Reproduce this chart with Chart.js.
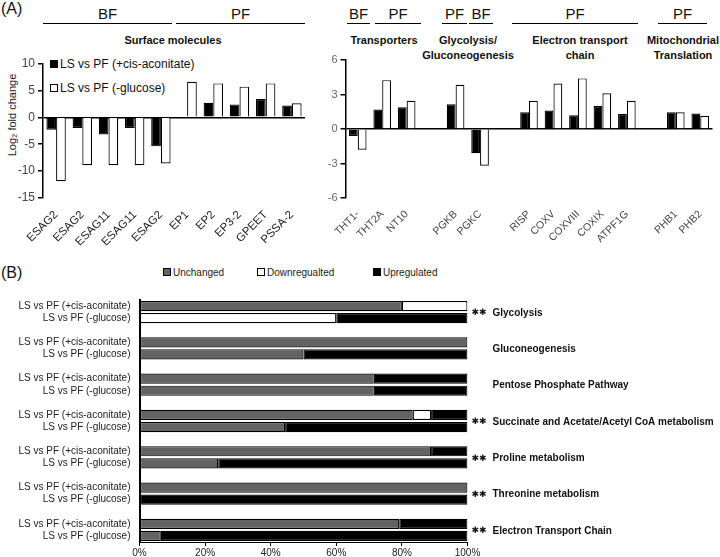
<!DOCTYPE html>
<html>
<head>
<meta charset="utf-8">
<script src="https://cdn.jsdelivr.net/npm/chart.js@4.4.1/dist/chart.umd.min.js"></script>
<style>
  body { margin:0; width:720px; height:557px; position:relative; background:#fff; overflow:hidden;
         font-family:'Liberation Sans', Arial, sans-serif; color:#111; }
  canvas { position:absolute; }
  .hdr { position:absolute; top:5px; height:18px; line-height:18px; font-size:15px; text-align:center; border-bottom:1.5px solid #000; }
  .sub { position:absolute; top:33px; font-size:11px; font-weight:bold; text-align:center; line-height:15px; }
  .panel { position:absolute; font-size:16px; }
  .leg { position:absolute; font-size:12px; color:#111; white-space:nowrap; line-height:14px; }
  .leg i, .legb i { display:inline-block; box-sizing:border-box; width:8px; height:8px; border:1px solid #000; margin-right:2px; vertical-align:0px; }
  .legb { position:absolute; font-size:10px; color:#222; white-space:nowrap; line-height:12px; top:267px; }
  .ytitle { position:absolute; left:12px; top:115px; transform:translate(-50%,-50%) rotate(-90deg); font-size:11px; color:#222; white-space:nowrap; }
</style>
</head>
<body>
<div class="panel" style="left:1px;top:0px">(A)</div>
<div class="panel" style="left:1px;top:264px">(B)</div>

<div class="hdr" style="left:43px;width:129px">BF</div>
<div class="hdr" style="left:176px;width:129px">PF</div>
<div class="hdr" style="left:347px;width:23px">BF</div>
<div class="hdr" style="left:375px;width:46px">PF</div>
<div class="hdr" style="left:442px;width:25px">PF</div>
<div class="hdr" style="left:469px;width:24px">BF</div>
<div class="hdr" style="left:512px;width:126px">PF</div>
<div class="hdr" style="left:658px;width:49px">PF</div>

<div class="sub" style="left:93px;width:160px">Surface molecules</div>
<div class="sub" style="left:334px;width:100px">Transporters</div>
<div class="sub" style="left:408px;width:120px">Glycolysis/<br>Gluconeogenesis</div>
<div class="sub" style="left:520px;width:120px">Electron transport<br>chain</div>
<div class="sub" style="left:633px;width:100px">Mitochondrial<br>Translation</div>

<div class="ytitle">Log₂ fold change</div>

<div class="leg" style="left:50px;top:57px"><i style="background:#000"></i>LS vs PF (+cis-aconitate)</div>
<div class="leg" style="left:50px;top:81px"><i style="background:#fff"></i>LS vs PF (-glucose)</div>

<div class="legb" style="left:163px"><i style="background:#636363"></i>Unchanged</div>
<div class="legb" style="left:257px"><i style="background:#fff"></i>Downregualted</div>
<div class="legb" style="left:373px"><i style="background:#000"></i>Upregulated</div>

<canvas id="surface" width="308" height="200" style="left:0;top:50px;width:308px;height:200px"></canvas>
<canvas id="metab" width="415" height="200" style="left:305px;top:50px;width:415px;height:200px"></canvas>
<canvas id="pathway" width="720" height="272" style="left:0;top:285px;width:720px;height:272px"></canvas>

<script>
const FONT = "'Liberation Sans', Arial, sans-serif";

// (A) surface molecules, log2 fold change
const surfaceGenes = ['ESAG2', 'ESAG2', 'ESAG11', 'ESAG11', 'ESAG2', 'EP1', 'EP2', 'EP3-2', 'GPEET', 'PSSA-2'];
const surfaceCis = [-2.3, -2.0, -3.2, -2.0, -5.4, 0, 2.7, 2.4, 3.4, 2.2];
const surfaceGlu = [-11.9, -8.9, -8.9, -8.9, -8.6, 6.6, 6.3, 5.7, 6.3, 2.6];
const surfaceTicks = [-15, 10, 5];

// (A) metabolic genes ('' = spacer between groups)
const metabGenes = ['THT1-', 'THT2A', 'NT10', '', 'PGKB', 'PGKC', '', 'RISP', 'COXV', 'COXVIII', 'COXIX', 'ATPF1G', '', 'PHB1', 'PHB2'];
const metabCis = [-0.6, 1.7, 1.9, null, 2.15, -2.1, null, 1.45, 1.6, 1.2, 2.0, 1.3, null, 1.45, 1.35];
const metabGlu = [-1.8, 4.25, 2.45, null, 3.85, -3.2, null, 2.45, 3.95, 4.4, 3.1, 2.45, null, 1.45, 1.15];
const metabTicks = [-6, 6, 3];

// (B) % of genes per pathway
const pathways = ['Glycolysis', 'Gluconeogenesis', 'Pentose Phosphate Pathway',
  'Succinate and Acetate/Acetyl CoA metabolism', 'Proline metabolism', 'Threonine metabolism', 'Electron Transport Chain'];
const significance = ['✱✱', '', '', '✱✱', '✱✱', '✱✱', '✱✱'];
const conditions = ['LS vs PF (+cis-aconitate)', 'LS vs PF (-glucose)'];
const unchangedCis = [80, 100, 71.4, 83.3, 88.9, 100, 79.2];
const downCis = [20, 0, 0, 5.6, 0, 0, 0];
const upCis = [0, 0, 28.6, 11.1, 11.1, 0, 20.8];
const unchangedGlu = [0, 50, 71.4, 44.4, 24, 0, 6.5];
const downGlu = [60, 0, 0, 0, 0, 0, 0];
const upGlu = [40, 50, 28.6, 55.6, 76, 100, 93.5];

function foldChart(id, labels, cis, glu, ticks, opts) {
    const [min, max, step] = ticks;
    return new Chart(document.getElementById(id), {
        type: 'bar',
        data: {
            labels: labels,
            datasets: [
                { label: conditions[0], data: cis, backgroundColor: '#000', borderColor: '#000', borderWidth: 1.2 },
                { label: conditions[1], data: glu, backgroundColor: '#fff', borderColor: '#000', borderWidth: 1.2 }
            ]
        },
        options: {
            responsive: false,
            animation: false,
            layout: { padding: opts.padding },
            plugins: { legend: { display: false }, tooltip: { enabled: false } },
            datasets: { bar: { categoryPercentage: opts.catPct, barPercentage: 1 } },
            scales: {
                x: {
                    grid: { display: false },
                    border: { display: false },
                    ticks: { autoSkip: false, minRotation: 45, maxRotation: 45, padding: 2,
                             color: opts.xColor, font: { family: FONT, size: opts.xSize } },
                    afterFit: s => { s.height = 52; }
                },
                y: {
                    min: min, max: max,
                    border: { display: true, color: '#000', width: 1.5 },
                    grid: {
                        color: c => c.tick && c.tick.value === 0 ? '#000' : 'rgba(0,0,0,0)',
                        lineWidth: 1.5,
                        tickColor: '#000', tickLength: 5, tickWidth: 1.5
                    },
                    ticks: { stepSize: step, padding: 3, color: opts.yColor, font: { family: FONT, size: opts.ySize } },
                    afterFit: s => { s.width = opts.yWidth; }
                }
            }
        }
    });
}

foldChart('surface', surfaceGenes, surfaceCis, surfaceGlu, surfaceTicks, {
    padding: { top: 13.5, right: 3, left: 0, bottom: 0 }, catPct: 0.74, yWidth: 43,
    xSize: 11.5, xColor: '#222', ySize: 12, yColor: '#444'
});

foldChart('metab', metabGenes, metabCis, metabGlu, metabTicks, {
    padding: { top: 10, right: 7.5, left: 0, bottom: 0 }, catPct: 0.72, yWidth: 40.5,
    xSize: 10.5, xColor: '#444', ySize: 11, yColor: '#666'
});

// (B) rows: two conditions per pathway, blank spacer row between groups
const rowLabels = [];
const rowUnchanged = [], rowDown = [], rowUp = [];
pathways.forEach((p, g) => {
    if (g > 0) { rowLabels.push(''); rowUnchanged.push(null); rowDown.push(null); rowUp.push(null); }
    rowLabels.push(conditions[0], conditions[1]);
    rowUnchanged.push(unchangedCis[g], unchangedGlu[g]);
    rowDown.push(downCis[g], downGlu[g]);
    rowUp.push(upCis[g], upGlu[g]);
});

const pathwayLabels = {
    id: 'pathwayLabels',
    afterDraw(chart) {
        const { ctx, chartArea, scales: { y } } = chart;
        ctx.save();
        ctx.fillStyle = '#111';
        ctx.textBaseline = 'middle';
        ctx.textAlign = 'left';
        pathways.forEach((name, g) => {
            const yy = (y.getPixelForValue(g * 3) + y.getPixelForValue(g * 3 + 1)) / 2 + 1;
            ctx.font = 'bold 10px ' + FONT;
            ctx.fillText(name, chartArea.right + 25, yy);
            if (significance[g]) {
                ctx.font = '9px "DejaVu Sans", sans-serif';
                ctx.fillText(significance[g], chartArea.right + 4, yy);
            }
        });
        ctx.restore();
    }
};

new Chart(document.getElementById('pathway'), {
    type: 'bar',
    data: {
        labels: rowLabels,
        datasets: [
            { label: 'Unchanged', data: rowUnchanged, backgroundColor: '#636363' },
            { label: 'Downregualted', data: rowDown, backgroundColor: '#fff' },
            { label: 'Upregulated', data: rowUp, backgroundColor: '#000' }
        ]
    },
    options: {
        indexAxis: 'y',
        responsive: false,
        animation: false,
        layout: { padding: { top: 11.5, right: 252.5, left: 0, bottom: 0 } },
        plugins: { legend: { display: false }, tooltip: { enabled: false } },
        datasets: { bar: { categoryPercentage: 0.84, barPercentage: 1, borderColor: '#000', borderWidth: 1.2, borderSkipped: false } },
        scales: {
            x: {
                stacked: true, min: 0, max: 100,
                border: { display: true, color: '#000', width: 1 },
                grid: { drawOnChartArea: false, color: '#000', tickLength: 4 },
                ticks: { stepSize: 20, padding: 1, callback: v => v + '%', color: '#222', font: { family: FONT, size: 10 } },
                afterFit: s => { s.height = 15; }
            },
            y: {
                stacked: true,
                border: { display: true, color: '#000', width: 2 },
                grid: { display: false, drawTicks: false },
                ticks: { autoSkip: false, padding: 9, color: '#222', font: { family: FONT, size: 10 } },
                afterFit: s => { s.width = 139.5; }
            }
        }
    },
    plugins: [pathwayLabels]
});
</script>
</body>
</html>
